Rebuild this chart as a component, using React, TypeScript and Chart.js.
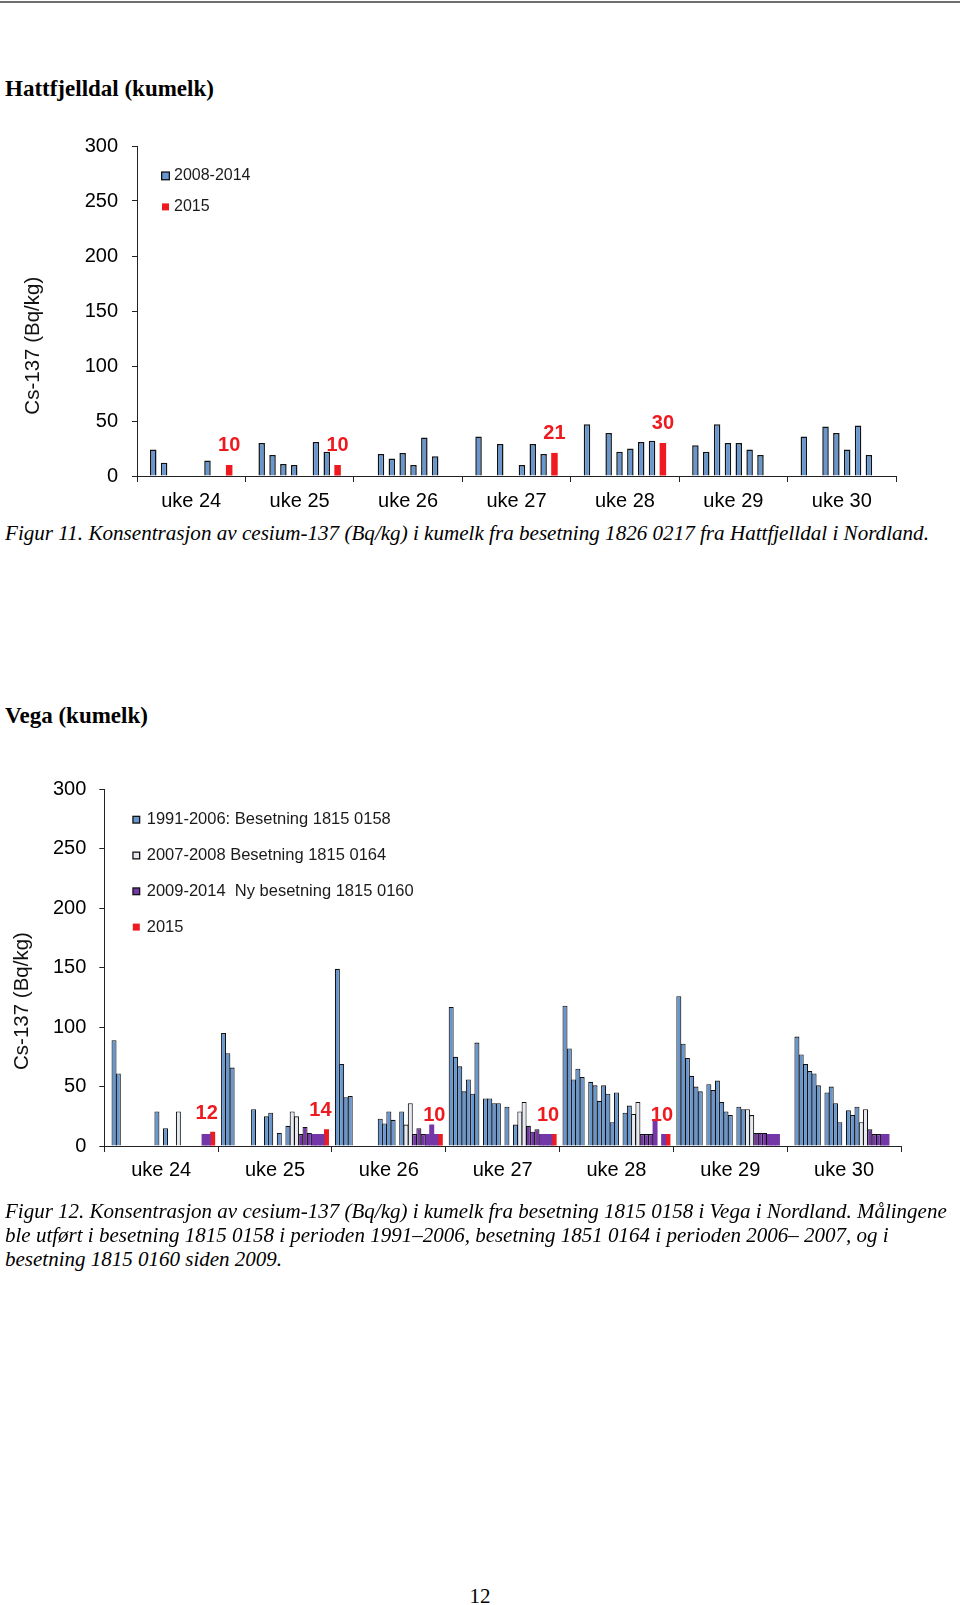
import React, { useEffect, useRef } from 'react';
import { Chart, registerables } from 'chart.js';

Chart.register(...registerables);
Chart.defaults.font.family = '"Liberation Sans", Arial, Helvetica, sans-serif';

// ---------- shared axis data ----------
const WEEKS = ['uke 24', 'uke 25', 'uke 26', 'uke 27', 'uke 28', 'uke 29', 'uke 30'];
const Y_TICKS = [0, 50, 100, 150, 200, 250, 300];

// ---------- Hattfjelldal: one value per year 2008..2015, for each week ----------
const HATT_YEARS = ['2008', '2009', '2010', '2011', '2012', '2013', '2014', '2015'];
const hattUke24 = [24, 12, null, null, null, 14, null, 10];
const hattUke25 = [30, 19, 11, 10, null, 31, 22, 10];
const hattUke26 = [null, 20, 16, 21, 10, 35, 18, null];
const hattUke27 = [36, null, 29, null, 10, 29, 20, 21];
const hattUke28 = [47, null, 39, 22, 25, 31, 32, 30];
const hattUke29 = [28, 22, 47, 30, 30, 24, 19, null];
const hattUke30 = [36, null, 45, 39, 24, 46, 19, null];
const HATT_LEGEND = ['2008-2014', '2015'];

// ---------- Vega: one value per year 1991..2015, for each week ----------
const VEGA_YEARS = [
  '1991', '1992', '1993', '1994', '1995', '1996', '1997', '1998', '1999', '2000',
  '2001', '2002', '2003', '2004', '2005', '2006', '2007', '2008', '2009', '2010',
  '2011', '2012', '2013', '2014', '2015',
];
const vegaUke24 = [null, 89, 61, null, null, null, null, null, null, null, null, 29, null, 15, null, null, 29, null, null, null, null, null, 10, 10, 12];
const vegaUke25 = [95, 78, 66, null, null, null, null, 31, null, null, 25, 28, null, 11, null, 17, 29, 25, 10, 16, 11, 10, 10, 10, 14];
const vegaUke26 = [149, 69, 41, 42, null, null, null, null, null, null, 23, 19, 29, 22, null, 29, 18, 36, 10, 15, 10, 10, 18, 10, 10];
const vegaUke27 = [117, 75, 67, 46, 56, 44, 87, null, 40, 40, 36, 36, null, 33, null, 18, 29, 37, 17, 12, 14, 10, 10, 10, 10];
const vegaUke28 = [118, 82, 56, 65, 58, null, 54, 51, 38, 51, 44, 20, 45, null, 28, 34, 27, 37, 10, 10, 10, 22, null, 10, 10];
const vegaUke29 = [126, 86, 74, 59, 50, 46, null, 52, 47, 55, 37, 29, 26, null, 33, 31, 31, 26, 11, 11, 11, 10, 10, 10, null];
const vegaUke30 = [null, 92, 77, 69, 63, 61, 51, null, 45, 50, 36, 20, null, 30, 26, 33, 20, 31, 14, 10, 10, 10, 10, null, null];
const VEGA_LEGEND = [
  '1991-2006: Besetning 1815 0158',
  '2007-2008 Besetning 1815 0164',
  '2009-2014  Ny besetning 1815 0160',
  '2015',
];

// ---------- styles ----------
const BLUE = '#6897D0';
const WHITE = '#E6EAF0';
const PURPLE = '#7536A8';
const RED = '#EE1A1F';
const EDGE = '#111111';
const AXIS = '#222222';
const Y_TITLE = 'Cs-137 (Bq/kg)';
const SERIF = '"Liberation Serif", "Times New Roman", Times, serif';

type Cell = number | null;

function column(weeks: Cell[][], i: number): Cell[] {
  return weeks.map((w) => w[i]);
}

function hattStyle(year: string) {
  return year === '2015'
    ? { backgroundColor: RED, borderWidth: 0 }
    : { backgroundColor: BLUE, borderWidth: 1.5 };
}

function vegaStyle(year: string) {
  const y = Number(year);
  if (y <= 2006) return { backgroundColor: BLUE, borderWidth: 1.1 };
  if (y <= 2008) return { backgroundColor: WHITE, borderWidth: 1.1 };
  if (y <= 2011) return { backgroundColor: PURPLE, borderWidth: 1.1 };
  if (y <= 2014) return { backgroundColor: PURPLE, borderWidth: 0 };
  return { backgroundColor: RED, borderWidth: 0 };
}

type OverlayCfg = {
  legend: { text: string; fill: string; border: boolean }[];
  legendDx: number;
  legendDy: number;
  legendGap: number;
  boxSize: number;
  plainSize: number;
  textDx: number;
  legendFont: string;
  labelDataset: number;
  labelDx: number;
  labelDy: number;
  titleDx: number;
  titleDy: number;
};

function overlayPlugin(cfg: OverlayCfg) {
  return {
    id: 'overlay',
    afterDraw(chart: any) {
      const { ctx, chartArea } = chart;
      ctx.save();
      // legend
      cfg.legend.forEach((it, i) => {
        const cy = chartArea.top + cfg.legendDy + i * cfg.legendGap;
        const bx = chartArea.left + cfg.legendDx;
        if (it.border) {
          const s = cfg.boxSize;
          ctx.fillStyle = EDGE;
          ctx.fillRect(bx, cy - s / 2, s, s);
          ctx.fillStyle = it.fill;
          ctx.fillRect(bx + 1.3, cy - s / 2 + 1.3, s - 2.6, s - 2.6);
        } else {
          const s = cfg.plainSize;
          ctx.fillStyle = it.fill;
          ctx.fillRect(bx + (cfg.boxSize - s) / 2, cy - s / 2, s, s);
        }
        ctx.fillStyle = '#1a1a1a';
        ctx.font = cfg.legendFont;
        ctx.textAlign = 'left';
        ctx.textBaseline = 'middle';
        ctx.fillText(it.text, chartArea.left + cfg.textDx, cy);
      });
      // value labels for 2015
      const meta = chart.getDatasetMeta(cfg.labelDataset);
      const vals = chart.data.datasets[cfg.labelDataset].data;
      ctx.fillStyle = RED;
      ctx.font = 'bold 20px "Liberation Sans", Arial, sans-serif';
      ctx.textAlign = 'center';
      ctx.textBaseline = 'alphabetic';
      meta.data.forEach((el: any, j: number) => {
        const v = vals[j];
        if (v === null || v === undefined) return;
        ctx.fillText(String(v), el.x + cfg.labelDx, el.y - cfg.labelDy);
      });
      // y axis title
      ctx.translate(chartArea.left + cfg.titleDx, (chartArea.top + chartArea.bottom) / 2 + cfg.titleDy);
      ctx.rotate(-Math.PI / 2);
      ctx.fillStyle = '#111';
      ctx.font = '20.5px "Liberation Sans", Arial, sans-serif';
      ctx.textAlign = 'center';
      ctx.textBaseline = 'middle';
      ctx.fillText(Y_TITLE, 0, 0);
      ctx.restore();
    },
  };
}

function axisOptions(p: { yWidth: number; xHeight: number; yPad: number; xPad: number }) {
  return {
    x: {
      offset: true,
      grid: { display: true, drawOnChartArea: false, drawTicks: true, tickLength: 6, color: AXIS, offset: true },
      border: { display: true, color: AXIS, width: 1 },
      ticks: { color: '#000', font: { size: 20 }, padding: p.xPad, maxRotation: 0, autoSkip: false },
      afterFit: (s: any) => { s.height = p.xHeight; },
    },
    y: {
      min: Y_TICKS[0],
      max: Y_TICKS[Y_TICKS.length - 1],
      afterBuildTicks: (s: any) => { s.ticks = Y_TICKS.map((v) => ({ value: v })); },
      grid: { display: true, drawOnChartArea: false, drawTicks: true, tickLength: 5, color: AXIS },
      border: { display: true, color: AXIS, width: 1 },
      ticks: { color: '#000', font: { size: 20 }, padding: p.yPad },
      afterFit: (s: any) => { s.width = p.yWidth; },
    },
  };
}

function hattConfig(): any {
  const weeks = [hattUke24, hattUke25, hattUke26, hattUke27, hattUke28, hattUke29, hattUke30];
  const datasets = HATT_YEARS.map((y, i) => ({
    label: y,
    data: column(weeks, i),
    ...hattStyle(y),
    borderColor: EDGE,
    borderSkipped: 'start',
    categoryPercentage: 0.8,
    barPercentage: 0.6,
  }));
  return {
    type: 'bar',
    data: { labels: WEEKS, datasets },
    options: {
      responsive: false,
      animation: false,
      devicePixelRatio: 1,
      events: [],
      layout: { padding: { top: 22.6, right: 24, left: 0, bottom: 0 } },
      plugins: { legend: { display: false }, tooltip: { enabled: false } },
      scales: axisOptions({ yWidth: 137, xHeight: 44, yPad: 14, xPad: 7 }),
    },
    plugins: [
      overlayPlugin({
        legend: [
          { text: HATT_LEGEND[0], fill: BLUE, border: true },
          { text: HATT_LEGEND[1], fill: RED, border: false },
        ],
        legendDx: 24,
        legendDy: 29.9,
        legendGap: 31,
        boxSize: 9,
        plainSize: 7,
        textDx: 37,
        legendFont: '16px "Liberation Sans", Arial, sans-serif',
        labelDataset: HATT_YEARS.length - 1,
        labelDx: 0,
        labelDy: 14,
        titleDx: -104,
        titleDy: 34.7,
      }),
    ],
  };
}

function vegaConfig(): any {
  const weeks = [vegaUke24, vegaUke25, vegaUke26, vegaUke27, vegaUke28, vegaUke29, vegaUke30];
  const datasets = VEGA_YEARS.map((y, i) => ({
    label: y,
    data: column(weeks, i),
    ...vegaStyle(y),
    borderColor: EDGE,
    borderSkipped: 'start',
    categoryPercentage: 0.942,
    barPercentage: 1.166,
  }));
  return {
    type: 'bar',
    data: { labels: WEEKS, datasets },
    options: {
      responsive: false,
      animation: false,
      devicePixelRatio: 1,
      events: [],
      layout: { padding: { top: 29.3, right: 29, left: 0, bottom: 0 } },
      plugins: { legend: { display: false }, tooltip: { enabled: false } },
      scales: axisOptions({ yWidth: 104.3, xHeight: 54, yPad: 13, xPad: 6.5 }),
    },
    plugins: [
      overlayPlugin({
        legend: [
          { text: VEGA_LEGEND[0], fill: BLUE, border: true },
          { text: VEGA_LEGEND[1], fill: WHITE, border: true },
          { text: VEGA_LEGEND[2], fill: PURPLE, border: true },
          { text: VEGA_LEGEND[3], fill: RED, border: false },
        ],
        legendDx: 28,
        legendDy: 30.4,
        legendGap: 35.8,
        boxSize: 8,
        plainSize: 7,
        textDx: 42.4,
        legendFont: '16.5px "Liberation Sans", Arial, sans-serif',
        labelDataset: VEGA_YEARS.length - 1,
        labelDx: -6,
        labelDy: 13,
        titleDx: -81.8,
        titleDy: 33.4,
      }),
    ],
  };
}

function ChartCanvas(props: { left: number; top: number; width: number; height: number; make: () => any }) {
  const ref = useRef<HTMLCanvasElement>(null);
  useEffect(() => {
    if (!ref.current) return;
    const chart = new Chart(ref.current, props.make());
    return () => chart.destroy();
  }, []);
  return (
    <canvas
      ref={ref}
      width={props.width}
      height={props.height}
      style={{ position: 'absolute', left: props.left, top: props.top, width: props.width, height: props.height }}
    />
  );
}

function Text(props: { top: number; size: number; left?: number; bold?: boolean; italic?: boolean; children: React.ReactNode; extra?: React.CSSProperties }) {
  return (
    <div
      style={{
        position: 'absolute',
        left: props.left ?? 5,
        top: props.top,
        fontFamily: SERIF,
        fontSize: props.size,
        lineHeight: `${props.size}px`,
        fontWeight: props.bold ? 'bold' : 'normal',
        fontStyle: props.italic ? 'italic' : 'normal',
        whiteSpace: 'nowrap',
        color: '#000',
        ...props.extra,
      }}
    >
      {props.children}
    </div>
  );
}

export default function App() {
  return (
    <div style={{ position: 'absolute', left: 0, top: 0, width: 960, height: 1605, background: '#fff', overflow: 'hidden' }}>
      <div style={{ position: 'absolute', left: 0, top: 1, width: 960, height: 2, background: '#6e6e6e' }} />
      <Text top={76.6} size={23} bold>Hattfjelldal (kumelk)</Text>
      <ChartCanvas left={0} top={120} width={920} height={400} make={hattConfig} />
      <Text top={523} size={21.1} italic>
        Figur 11. Konsentrasjon av cesium-137 (Bq/kg) i kumelk fra besetning 1826 0217 fra Hattfjelldal i Nordland.
      </Text>
      <Text top={703.8} size={23} bold>Vega (kumelk)</Text>
      <ChartCanvas left={0} top={760} width={930} height={440} make={vegaConfig} />
      <Text top={1200.9} size={21} italic>
        Figur 12. Konsentrasjon av cesium-137 (Bq/kg) i kumelk fra besetning 1815 0158 i Vega i Nordland. Målingene
      </Text>
      <Text top={1224.9} size={21} italic>
        ble utført i besetning 1815 0158 i perioden 1991–2006, besetning 1851 0164 i perioden 2006– 2007, og i
      </Text>
      <Text top={1248.9} size={21} italic>
        besetning 1815 0160 siden 2009.
      </Text>
      <Text top={1586} size={21} left={460} extra={{ width: 40, textAlign: 'center' }}>12</Text>
    </div>
  );
}
